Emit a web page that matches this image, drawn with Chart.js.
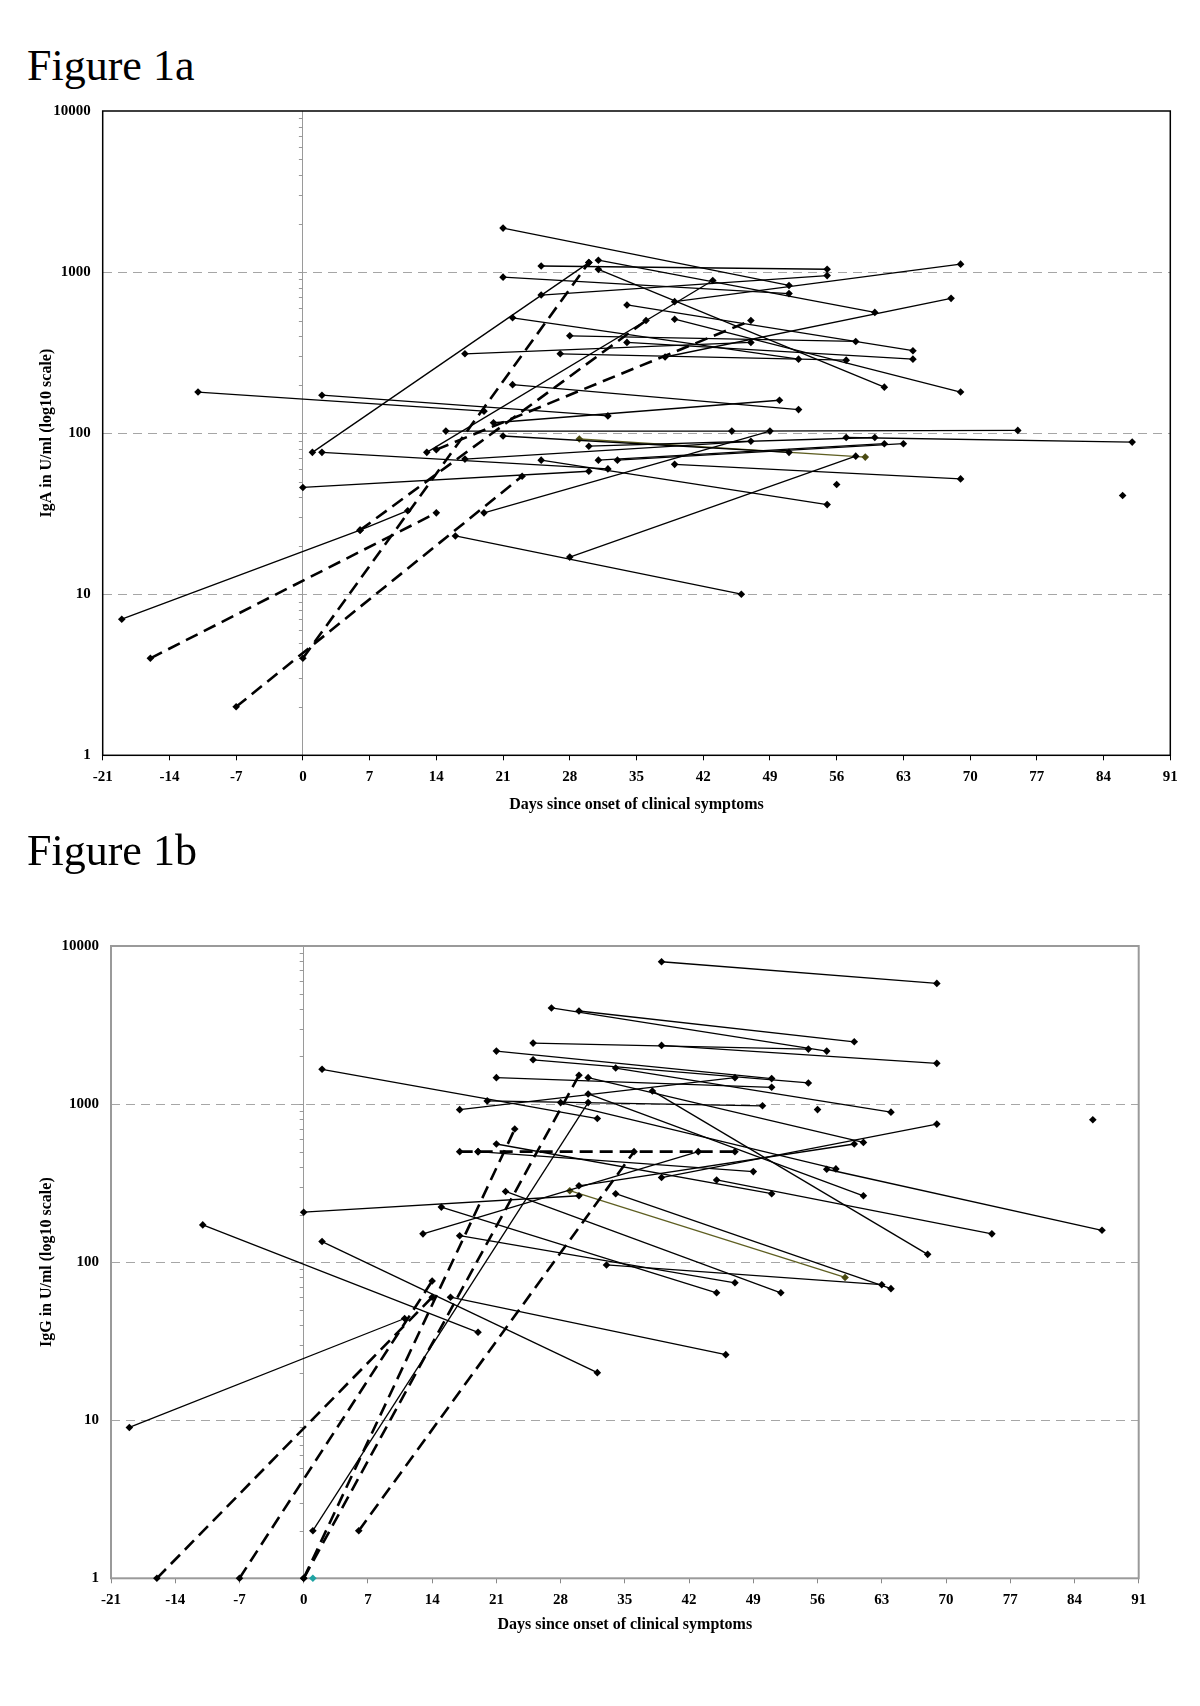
<!DOCTYPE html>
<html>
<head>
<meta charset="utf-8">
<script src="https://cdn.jsdelivr.net/npm/chart.js@4.4.1/dist/chart.umd.min.js"></script>
<style>
  body { margin: 0; background: #fff; width: 1200px; height: 1706px; position: relative; overflow: hidden; font-family: "Liberation Serif", serif; }
  .fig { position: absolute; left: 27px; font-size: 44px; line-height: 1; color: #000; }
  .wrap { position: absolute; left: 0; width: 1200px; height: 740px; }
</style>
</head>
<body>
<div class="fig" style="top:44px">Figure 1a</div>
<div class="wrap" style="top:90px"><canvas id="igaChart" width="1200" height="740"></canvas></div>
<div class="fig" style="top:829px">Figure 1b</div>
<div class="wrap" style="top:925px"><canvas id="iggChart" width="1200" height="740"></canvas></div>
<script>
// axis ticks
const dayTicks = [-21, -14, -7, 0, 7, 14, 21, 28, 35, 42, 49, 56, 63, 70, 77, 84, 91];
const unitTicks = [1, 10, 100, 1000, 10000];

// Figure 1a - IgA, one entry per patient (days, U/ml)
const igaSolidDays = [
  [21, 51], [25, 55], [25, 55], [21, 51], [31, 60], [31, 61], [1, 30], [13, 43],
  [39, 69], [38, 68], [34, 64], [28, 58], [34, 64], [22, 52], [27, 57], [39, 69],
  [17, 47], [22, 52], [20, 50], [2, 32], [-11, 19], [15, 45, 75], [19, 49], [-19, 6, 11],
  [0, 30], [2, 32], [17, 47], [25, 55], [39, 69], [21, 51], [30, 60], [57, 87],
  [31, 61], [33, 63], [28, 58], [16, 46]
];
const igaSolidValues = [
  [1875, 826], [1091, 1041], [720, 951], [930, 735], [1185, 562], [1040, 193], [76, 1145], [76, 887],
  [655, 1120], [297, 687], [625, 325], [402, 371], [366, 288], [520, 288], [311, 284], [510, 180],
  [311, 366], [200, 140], [116, 160], [172, 128], [180, 137], [103, 103, 104], [32, 103], [7, 25, 33],
  [46, 58], [76, 60], [69, 89], [68, 36], [64, 52], [96, 76], [83, 94], [94, 88],
  [68, 86], [68, 86], [17, 72], [23, 10]
];
const igaDashedDays = [[-16, 14], [-7, 23], [0, 30], [14, 47], [6, 36]];
const igaDashedValues = [[4, 32], [2, 54], [4, 1145], [79, 500], [25, 500]];
const igaOliveDays = [[29, 59]];
const igaOliveValues = [[92, 71]];
const igaSingleDays = [56, 86];
const igaSingleValues = [48, 41];

// Figure 1b - IgG
const iggSolidDays = [
  [39, 69], [27, 57], [30, 60], [25, 55], [39, 69], [25, 55], [21, 51], [21, 51],
  [17, 47], [34, 64], [38, 68], [31, 61], [31, 61], [20, 50], [28, 58], [1, 31],
  [2, 32], [21, 51], [19, 49], [13, 43], [30, 60], [39, 69], [0, 30], [15, 45],
  [17, 47], [22, 52], [16, 46], [2, 32], [-11, 19], [-19, 11], [33, 63], [34, 64],
  [45, 75], [57, 87]
];
const iggSolidValues = [
  [7950, 5800], [4055, 2163], [3880, 2477], [2430, 2227], [2350, 1810], [1906, 1360], [2163, 1449], [1469, 1277],
  [922, 1469], [1690, 889], [1211, 112], [1159, 263], [1469, 572], [1047, 975], [1022, 389], [2, 1022],
  [1660, 810], [559, 271], [500, 374], [151, 500], [304, 559], [343, 747], [207, 263], [223, 64],
  [147, 74], [280, 64], [60, 26], [135, 20], [172, 36], [9, 44], [96, 72], [271, 68],
  [331, 151], [387, 159]
];
const iggDashedDays = [[-16, 14], [-7, 14], [0, 23], [0, 30], [6, 36], [17, 19, 47]];
const iggDashedValues = [[1, 60], [1, 76], [1, 695], [1, 1521], [2, 500], [500, 500, 500]];
const iggOliveDays = [[29, 59]];
const iggOliveValues = [[283, 80]];
const iggSingleDays = [56, 86];
const iggSingleValues = [923, 795];
const iggTealDays = [1];
const iggTealValues = [1];

function toPoints(days, values) {
  return days.map((d, i) => ({ x: d, y: values[i] }));
}

const solidStyle = {
  showLine: true, borderColor: '#000', borderWidth: 1.3,
  pointStyle: 'rectRot', pointRadius: 3.8, pointBackgroundColor: '#000',
  pointBorderColor: '#000', pointBorderWidth: 0, clip: false
};
const dashedStyle = Object.assign({}, solidStyle, { borderWidth: 2.6, borderDash: [13, 7] });
const oliveStyle = Object.assign({}, solidStyle, { borderColor: '#5f5f22', pointBackgroundColor: '#4a4a12', pointBorderColor: '#4a4a12' });

function buildSets(daysList, valuesList, style) {
  return daysList.map((d, i) => Object.assign({ data: toPoints(d, valuesList[i]) }, style));
}

function singleSet(days, values, color) {
  return Object.assign({ data: toPoints(days, values) }, solidStyle, {
    showLine: false, pointBackgroundColor: color, pointBorderColor: color
  });
}

// frame round the plot area and small log ticks on the day-0 line
const framePlugin = {
  id: 'frame',
  beforeDatasetsDraw(chart, args, opts) {
    const { ctx, chartArea: a, scales } = chart;
    const x0 = scales.x.getPixelForValue(0);
    ctx.save();
    ctx.strokeStyle = '#999';
    ctx.lineWidth = 1;
    for (let dec = 1; dec < 10000; dec *= 10) {
      for (let m = 1; m < 10; m++) {
        const y = Math.round(scales.y.getPixelForValue(dec * m)) + 0.5;
        ctx.beginPath();
        ctx.moveTo(x0 - 4, y);
        ctx.lineTo(x0, y);
        ctx.stroke();
      }
    }
    ctx.strokeStyle = opts.color;
    ctx.lineWidth = opts.width;
    ctx.strokeRect(a.left, a.top, a.right - a.left, a.bottom - a.top);
    ctx.restore();
  }
};

function makeChart(id, datasets, yTitle, box) {
  const ctx = document.getElementById(id).getContext('2d');
  return new Chart(ctx, {
    type: 'scatter',
    data: { datasets: datasets },
    plugins: [framePlugin],
    options: {
      responsive: false,
      animation: false,
      devicePixelRatio: 1,
      layout: { padding: { left: 0, top: box.top, right: box.right, bottom: 0 } },
      plugins: { legend: { display: false }, tooltip: { enabled: false }, frame: { color: box.frame, width: box.frameWidth } },
      scales: {
        x: {
          type: 'linear', min: -21, max: 91,
          afterBuildTicks: s => { s.ticks = dayTicks.map(v => ({ value: v })); },
          afterFit: s => { s.height = box.xHeight; },
          grid: {
            color: c => (c.tick && c.tick.value === 0 ? '#9a9a9a' : 'rgba(0,0,0,0)'),
            tickColor: box.tickColor, tickLength: 5, lineWidth: 1
          },
          border: { display: false },
          ticks: { color: '#000', padding: 8, maxRotation: 0, autoSkip: false, font: { family: 'Liberation Serif', size: 15, weight: 'bold' } },
          title: {
            display: true, text: 'Days since onset of clinical symptoms', color: '#000',
            padding: { top: 0, bottom: box.xTitlePad },
            font: { family: 'Liberation Serif', size: 16, weight: 'bold' }
          }
        },
        y: {
          type: 'logarithmic', min: 1, max: 10000,
          afterBuildTicks: s => { s.ticks = unitTicks.map(v => ({ value: v })); },
          afterFit: s => { s.width = box.yWidth; },
          grid: {
            color: c => (c.tick && c.tick.value > 1 && c.tick.value < 10000 ? '#a6a6a6' : 'rgba(0,0,0,0)'),
            drawTicks: false, lineWidth: 1
          },
          border: { display: false, dash: [9, 6] },
          ticks: { color: '#000', padding: 12, callback: v => String(v), font: { family: 'Liberation Serif', size: 15, weight: 'bold' } },
          title: {
            display: true, text: yTitle, color: '#000',
            padding: { top: 37, bottom: 0 },
            font: { family: 'Liberation Serif', size: 16, weight: 'bold' }
          }
        }
      }
    }
  });
}

const igaSets = [].concat(
  buildSets(igaSolidDays, igaSolidValues, solidStyle),
  buildSets(igaDashedDays, igaDashedValues, dashedStyle),
  buildSets(igaOliveDays, igaOliveValues, oliveStyle),
  [singleSet(igaSingleDays, igaSingleValues, '#000')]
);

const iggSets = [].concat(
  buildSets(iggSolidDays, iggSolidValues, solidStyle),
  buildSets(iggDashedDays, iggDashedValues, dashedStyle),
  buildSets(iggOliveDays, iggOliveValues, oliveStyle),
  [singleSet(iggSingleDays, iggSingleValues, '#000'), singleSet(iggTealDays, iggTealValues, '#1fa3a3')]
);

makeChart('igaChart', igaSets, 'IgA in U/ml (log10 scale)',
  { top: 19.3, right: 29.7, yWidth: 102.7, xHeight: 74.7, xTitlePad: 16, frame: '#000', frameWidth: 1.5, tickColor: '#000' });
makeChart('iggChart', iggSets, 'IgG in U/ml (log10 scale)',
  { top: 19, right: 61.3, yWidth: 111, xHeight: 86.7, xTitlePad: 31, frame: '#9a9a9a', frameWidth: 2, tickColor: '#888' });
</script>
</body>
</html>
